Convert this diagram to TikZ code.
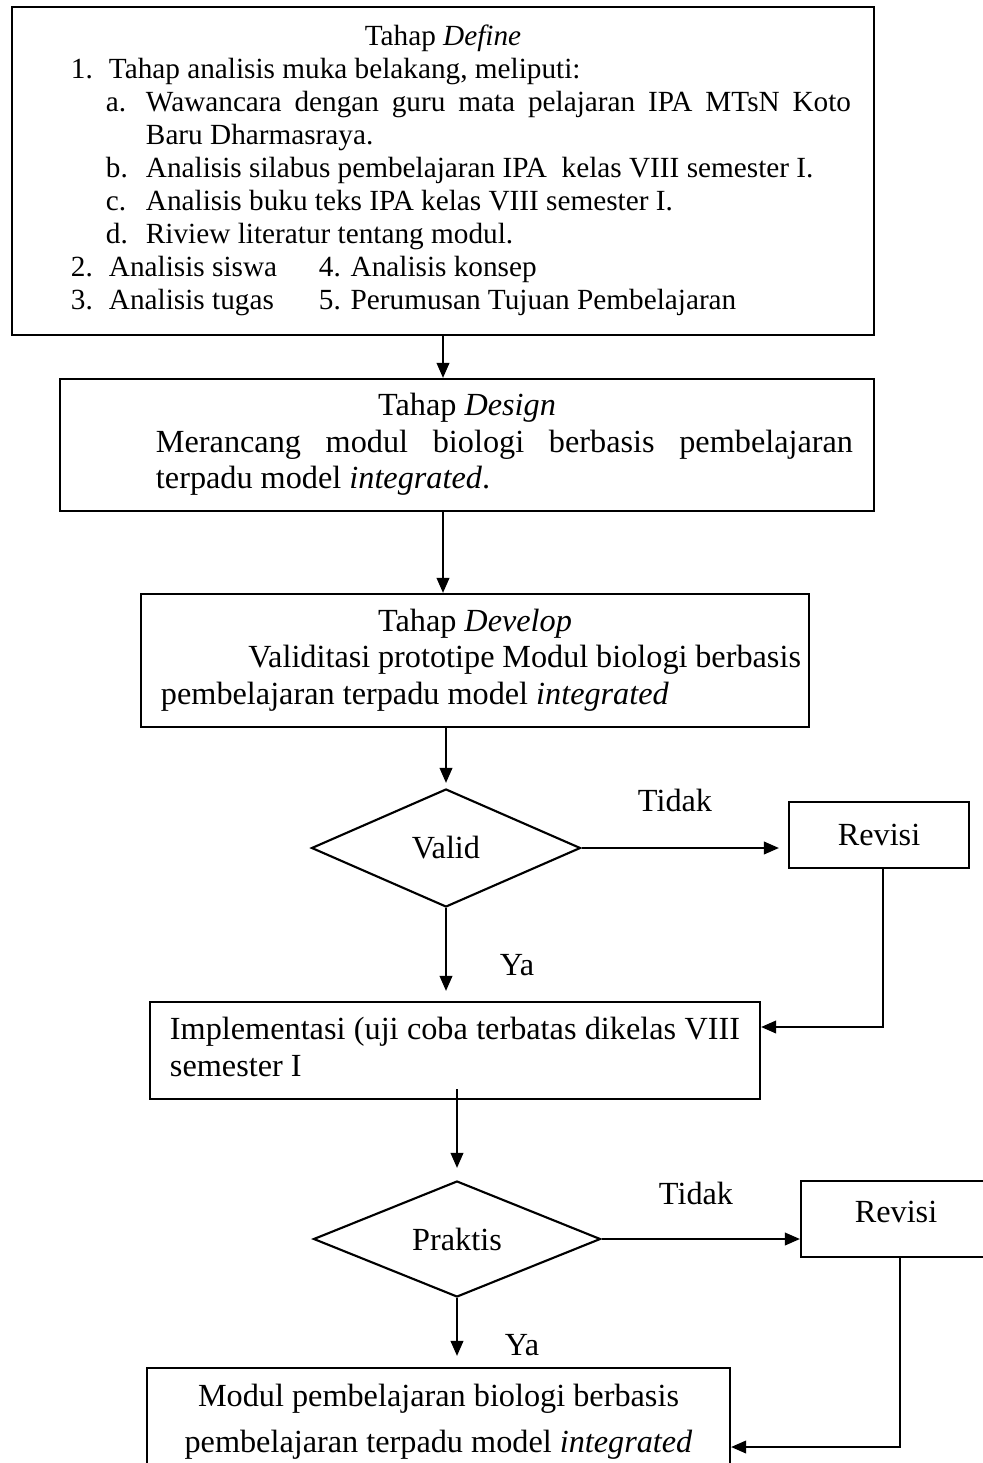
\documentclass[tikz,border=0pt]{standalone}
\usepackage{fontspec}
\setmainfont{Liberation Serif}
\usetikzlibrary{arrows.meta,shapes.geometric,positioning}

% text sizes
\newcommand{\teksbesar}{\fontsize{12.9pt}{14.6pt}\selectfont}
\newcommand{\tekskecil}{\fontsize{11.7pt}{13.2pt}\selectfont}
% one line of a box: width, indent, text
\newcommand{\baris}[3]{\makebox[#1][l]{\hspace*{#2}#3}}

\tikzset{
  tahap/.style={draw, line width=0.85pt, inner sep=0pt, font=\teksbesar},
  keputusan/.style={draw, diamond, aspect=2.3, line width=0.85pt, inner sep=0pt, font=\teksbesar},
  panah/.style={line width=0.85pt, -{Triangle[length=6pt,width=5pt]}},
  ket/.style={font=\teksbesar}
}

\begin{document}
\begin{tikzpicture}[x=0.4pt, y=-0.4pt]

      % Definitions
      \useasboundingbox (0,0) rectangle (982,1463);
      \coordinate (turnA) at (883,1027);
      \coordinate (turnB) at (900,1447);

      % tahap define
      \node[tahap, font=\tekskecil, minimum width=344.8pt, minimum height=131.2pt] (define) at (443,171) {%
        \begin{tabular}{@{}l@{}}
          \makebox[344.8pt]{Tahap \textit{Define}}\\
          \baris{344.8pt}{23.6pt}{\makebox[15.2pt][l]{1.}Tahap analisis muka belakang, meliputi:}\\
          \baris{344.8pt}{37.6pt}{\makebox[16pt][l]{a.}\makebox[282pt][s]{Wawancara dengan guru mata pelajaran IPA MTsN Koto}}\\
          \baris{344.8pt}{53.6pt}{Baru Dharmasraya.}\\
          \baris{344.8pt}{37.6pt}{\makebox[16pt][l]{b.}Analisis silabus pembelajaran IPA\ \ kelas VIII semester I.}\\
          \baris{344.8pt}{37.6pt}{\makebox[16pt][l]{c.}Analisis buku teks IPA kelas VIII semester I.}\\
          \baris{344.8pt}{37.6pt}{\makebox[16pt][l]{d.}Riview literatur tentang modul.}\\
          \baris{344.8pt}{23.6pt}{\makebox[99.2pt][l]{\makebox[15.2pt][l]{2.}Analisis siswa}4. Analisis konsep}\\
          \baris{344.8pt}{23.6pt}{\makebox[99.2pt][l]{\makebox[15.2pt][l]{3.}Analisis tugas}5. Perumusan Tujuan Pembelajaran}
        \end{tabular}};

      % tahap design
      \node[tahap, minimum width=325.6pt, minimum height=52.8pt] (design) at (467,445) {%
        \begin{tabular}{@{}l@{}}
          \makebox[325.6pt]{Tahap \textit{Design}}\\
          \baris{325.6pt}{38.4pt}{\makebox[278.8pt][s]{Merancang modul biologi berbasis pembelajaran}}\\
          \baris{325.6pt}{38.4pt}{terpadu model \textit{integrated}.}
        \end{tabular}};

      % tahap develop
      \node[tahap, minimum width=267.2pt, minimum height=53.2pt] (develop) at (475,660.5) {%
        \begin{tabular}{@{}l@{}}
          \makebox[267.2pt]{Tahap \textit{Develop}}\\
          \baris{267.2pt}{43pt}{\makebox[221pt][s]{Validitasi prototipe Modul biologi berbasis}}\\
          \baris{267.2pt}{8pt}{pembelajaran terpadu model \textit{integrated}}
        \end{tabular}};

      % uji validitas
      \node[keputusan, minimum width=107.6pt, minimum height=47.2pt] (valid) at (446,848) {Valid};
      \node[tahap, minimum width=72pt, minimum height=26.4pt] (revisiA) at (879,835) {Revisi};
      \node[ket] (tidakA) at (675,800) {Tidak};
      \node[ket] (yaA) at (517,965) {Ya};

      % implementasi
      \node[tahap, minimum width=244pt, minimum height=38.8pt] (impl) at (455,1050.5) {%
        \begin{tabular}{@{}l@{}}
          \baris{244pt}{8pt}{\makebox[228pt][s]{Implementasi (uji coba terbatas dikelas VIII}}\\
          \baris{244pt}{8pt}{semester I}
        \end{tabular}};

      % uji kepraktisan
      \node[keputusan, minimum width=114.8pt, minimum height=46.4pt] (praktis) at (457,1239) {Praktis};
      \node[tahap, minimum width=76pt, minimum height=30.4pt, text depth=5.6pt] (revisiB) at (896,1219) {Revisi};
      \node[ket] (tidakB) at (696,1193) {Tidak};
      \node[ket] (yaB) at (522,1345) {Ya};

      % produk akhir
      \node[tahap, minimum width=233.2pt, minimum height=42.8pt, align=center] (modul) at (438.5,1421.5)
        {Modul pembelajaran biologi berbasis\\[4pt] pembelajaran terpadu model \textit{integrated}};

      % alur
      \draw[panah] (define.south) -- (define.south |- design.north);
      \draw[panah] (design.south -| define.south) -- (develop.north -| define.south);
      \draw[panah, shorten >=2pt] (develop.south -| valid.north) -- (valid.north);
      \draw[panah, shorten >=3.6pt] (valid.east) -- (valid.east -| revisiA.west);
      \draw[panah, shorten >=4pt] (valid.south) -- (valid.south |- impl.north);
      \draw[panah] (revisiA.south -| turnA) -- (turnA) -- (turnA -| impl.east);
      \draw[panah, shorten <=-4.4pt, shorten >=4.8pt] (impl.south -| praktis.north) -- (praktis.north);
      \draw[panah] (praktis.east) -- (praktis.east -| revisiB.west);
      \draw[panah, shorten >=4.4pt] (praktis.south) -- (praktis.south |- modul.north);
      \draw[panah] (revisiB.south -| turnB) -- (turnB) -- (turnB -| modul.east);
\end{tikzpicture}
\end{document}
